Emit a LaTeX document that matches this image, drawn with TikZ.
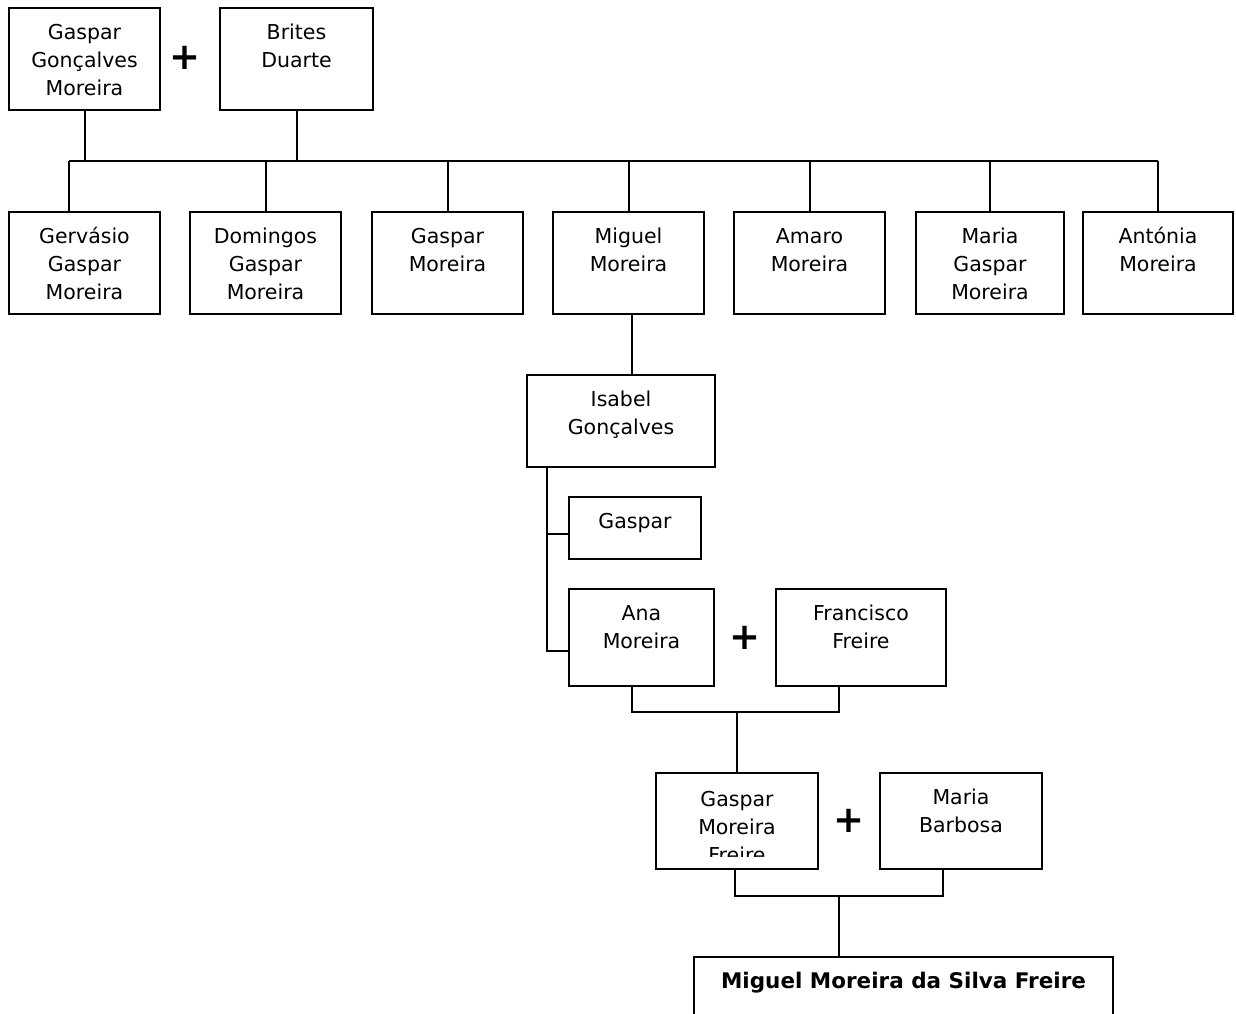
\documentclass[tikz,border=0pt]{standalone}
\usepackage{fontspec}
\setmainfont{DejaVu Sans}
\usetikzlibrary{calc}
\newcommand{\lstrut}{\rule{0pt}{16pt}}
% person box: name, x1, y1, x2, y2, text (text hangs from the top edge)
\newcommand{\personbox}[6]{%
  \node[person, minimum width={#4-#2}, minimum height={#5-#3}] (#1) at ({(#2+#4)/2},{(#3+#5)/2}) {};
  \node[lbl] (#1-t) at ([yshift=-15pt]#1.north) {\lstrut #6};}
\begin{document}
\begin{tikzpicture}[x=1pt,y=-1pt,line width=2pt,
  person/.style={draw, rectangle, inner sep=0pt},
  lbl/.style={anchor=north, align=center, inner sep=0pt, font=\fontsize{20.5}{28}\selectfont},
  plussign/.style={inner sep=0pt, font=\fontsize{37}{37}\selectfont\bfseries}]
\useasboundingbox (0,0) rectangle (1236,1013);
\clip (0,0) rectangle (1236,1013);

% first couple
\personbox{ggm}{9}{8}{160}{110}{Gaspar\\Gonçalves\\Moreira}
\personbox{brites}{220}{8}{373}{110}{Brites\\Duarte}
\node[plussign] (p1) at (185,58) {+};

% their children
\personbox{gerv}{9}{212}{160}{314}{Gervásio\\Gaspar\\Moreira}
\personbox{dom}{190}{212}{341}{314}{Domingos\\Gaspar\\Moreira}
\personbox{gasp}{372}{212}{523}{314}{Gaspar\\Moreira}
\personbox{miguel}{553}{212}{704}{314}{Miguel\\Moreira}
\personbox{amaro}{734}{212}{885}{314}{Amaro\\Moreira}
\personbox{maria}{916}{212}{1064}{314}{Maria\\Gaspar\\Moreira}
\personbox{anto}{1083}{212}{1233}{314}{Antónia\\Moreira}

\coordinate (bar) at (0,161);
\coordinate (gv) at ([xshift=-15.5pt]gerv.north);
\draw (ggm.south) -- (ggm.south |- bar);
\draw (brites.south) -- (brites.south |- bar);
\draw (gv |- bar) -- (anto.north |- bar);
\draw (gv) -- (gv |- bar);
\foreach \c in {dom,gasp,miguel,amaro,maria,anto}
  \draw (\c.north) -- (\c.north |- bar);

% Miguel's line
\personbox{isabel}{527}{375}{715}{467}{Isabel\\Gonçalves}
\draw ([xshift=3pt]miguel.south) -- ([xshift=3pt]miguel.south |- isabel.north);

\personbox{gasp2}{569}{497}{701}{559}{Gaspar}
\personbox{ana}{569}{589}{714}{686}{Ana\\Moreira}
\personbox{fran}{776}{589}{946}{686}{Francisco\\Freire}
\node[plussign] (p2) at (745,638) {+};

\coordinate (isl) at ([xshift=21pt]isabel.south west);
\coordinate (gj) at ([yshift=-6pt]gasp2.west);
\coordinate (anj) at ([yshift=-13.5pt]ana.west);
\draw (isl) |- (anj);
\draw (isl |- gj) -- (gj);

% Ana + Francisco
\personbox{gmf}{656}{773}{818}{869}{}
\begin{scope}
  \clip (gmf.north west) rectangle ([yshift=14pt]gmf.south east);
  \node[lbl] (gmf-t2) at ([yshift=-17pt]gmf.north) {\lstrut Gaspar\\Moreira\\Freire};
\end{scope}
\personbox{mb}{880}{773}{1042}{869}{Maria\\Barbosa}
\node[plussign] (p3) at (849,821) {+};

\coordinate (m1) at (0,712);
\coordinate (aj) at ([xshift=-9.5pt]ana.south);
\coordinate (fj) at ([xshift=-22pt]fran.south);
\draw (aj) -- (aj |- m1) -- (fj |- m1) -- (fj);
\draw (gmf.north |- m1) -- (gmf.north);

% Gaspar + Maria
\node[person, minimum width=419, minimum height=90] (final) at (903.5,1002) {};
\node[lbl, font=\fontsize{21.5}{28}\selectfont\bfseries] (final-t) at ([yshift=-15pt]final.north) {\lstrut Miguel Moreira da Silva Freire};

\coordinate (m2) at (0,896);
\coordinate (gj2) at ([xshift=-2pt]gmf.south);
\coordinate (mj) at ([xshift=-18pt]mb.south);
\draw (gj2) -- (gj2 |- m2) -- (mj |- m2) -- (mj);
\coordinate (m2mid) at ($(gj2 |- m2)!0.5!(mj |- m2)$);
\draw (m2mid) -- (m2mid |- final.north);
\end{tikzpicture}
\end{document}
